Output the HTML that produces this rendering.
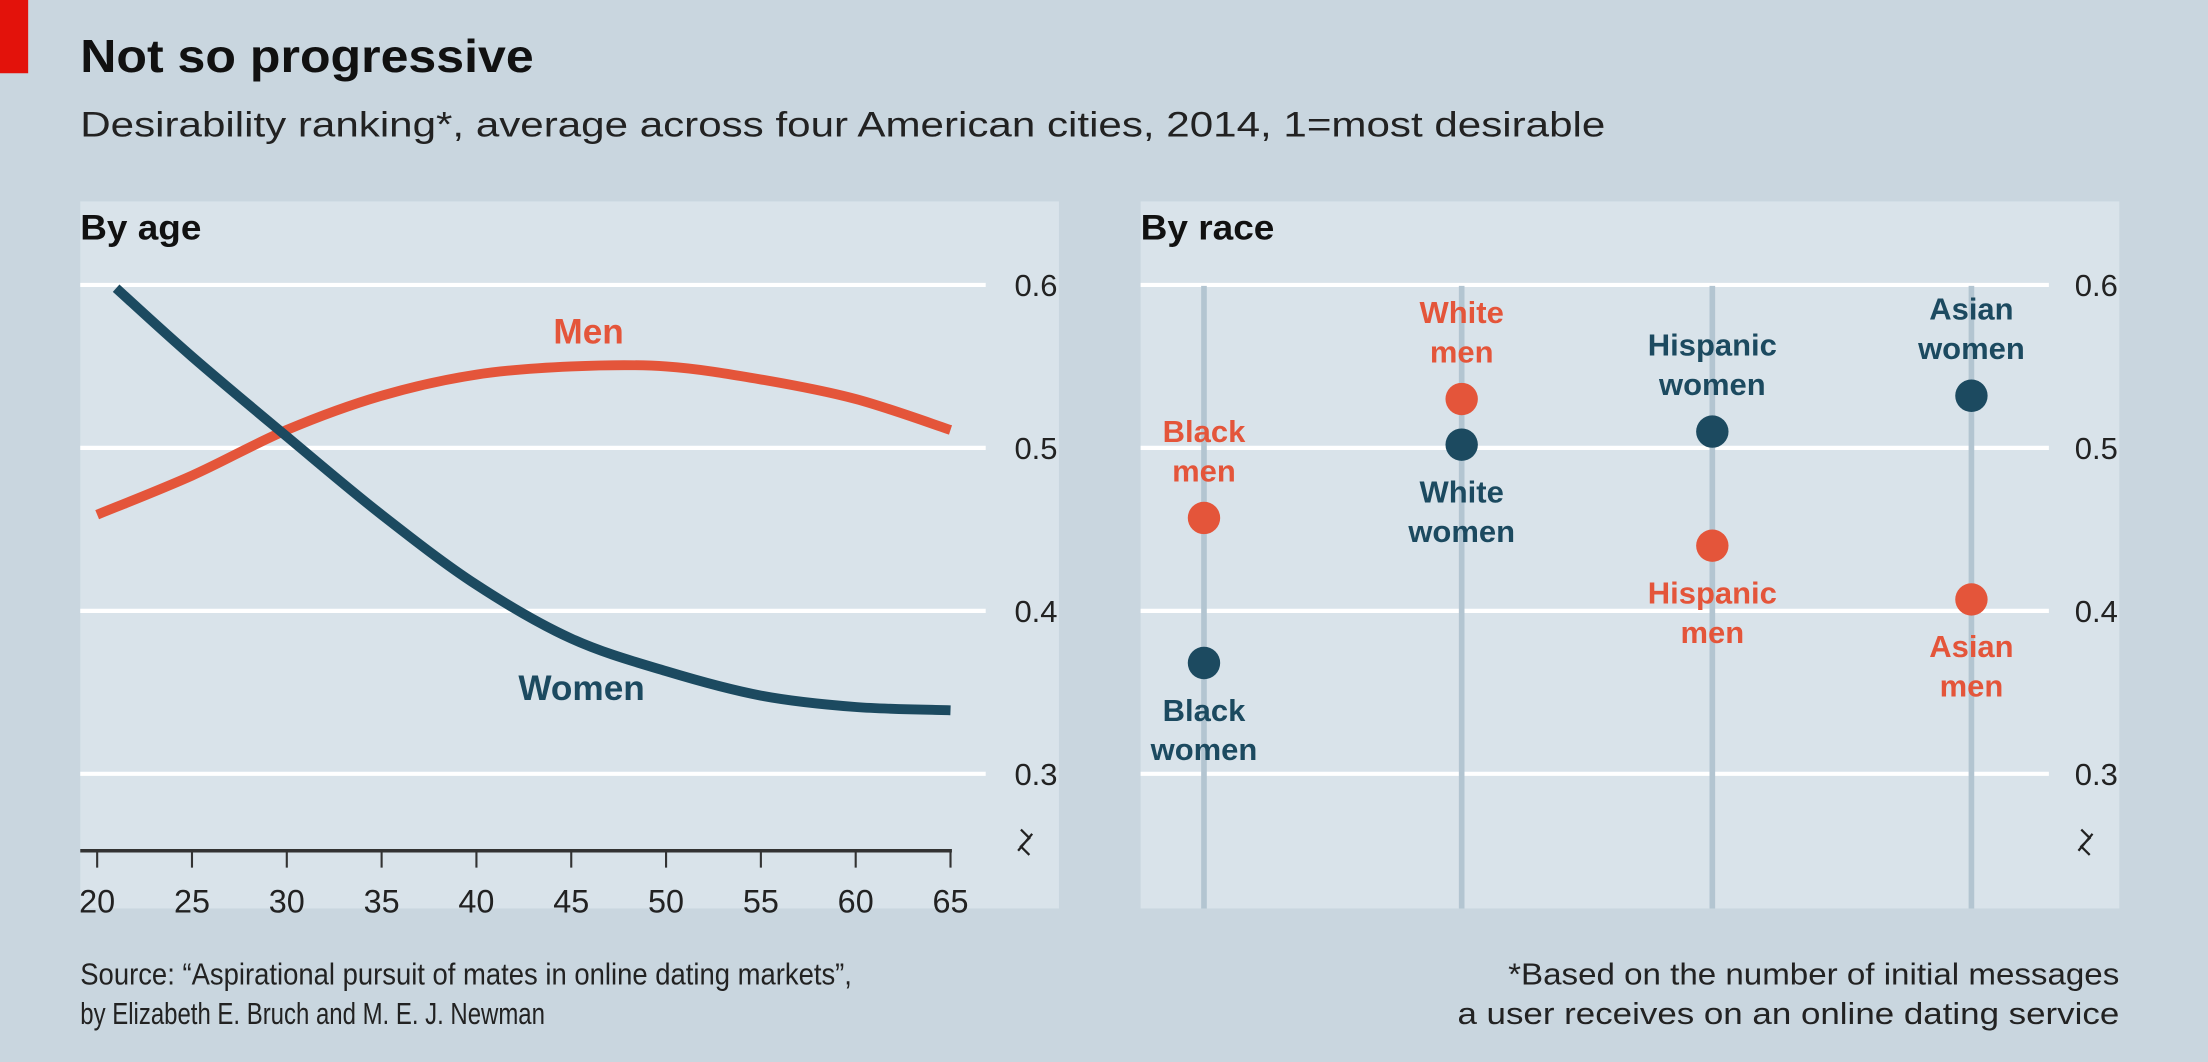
<!DOCTYPE html>
<html><head><meta charset="utf-8"><style>
html,body{margin:0;padding:0;background:#c9d6df;}
svg{display:block;}
text{font-family:"Liberation Sans",sans-serif;}
</style></head><body>
<svg id="chart" width="2208" height="1062" viewBox="0 0 1568 754" preserveAspectRatio="none">
<rect x="0" y="0" width="1568" height="754" fill="#c9d6df"/>
<rect x="0" y="0" width="20" height="52" fill="#e3120b"/>
<text x="57" y="51" font-size="33" font-weight="bold" fill="#111" textLength="322" lengthAdjust="spacingAndGlyphs">Not so progressive</text>
<text x="57" y="97" font-size="25" fill="#222" textLength="1083" lengthAdjust="spacingAndGlyphs">Desirability ranking*, average across four American cities, 2014, 1=most desirable</text>
<rect x="57" y="143" width="695" height="502" fill="#d9e3ea"/>
<rect x="810" y="143" width="695" height="502" fill="#d9e3ea"/>
<text x="57" y="170" font-size="25" font-weight="bold" fill="#111" textLength="86" lengthAdjust="spacingAndGlyphs">By age</text>
<text x="810" y="170" font-size="25" font-weight="bold" fill="#111" textLength="95" lengthAdjust="spacingAndGlyphs">By race</text>
<g id="left"></g>
<g id="right"></g>
<text x="57" y="699" font-size="22" fill="#222" textLength="548" lengthAdjust="spacingAndGlyphs">Source: “Aspirational pursuit of mates in online dating markets”,</text>
<text x="57" y="727" font-size="22" fill="#222" textLength="330" lengthAdjust="spacingAndGlyphs">by Elizabeth E. Bruch and M. E. J. Newman</text>
<text x="1505" y="699" font-size="22" fill="#222" text-anchor="end" textLength="434" lengthAdjust="spacingAndGlyphs">*Based on the number of initial messages</text>
<text x="1505" y="727" font-size="22" fill="#222" text-anchor="end" textLength="470" lengthAdjust="spacingAndGlyphs">a user receives on an online dating service</text>
</svg>
<script>
const yTicks = [0.6, 0.5, 0.4, 0.3];
const yTickLabels = ["0.6", "0.5", "0.4", "0.3"];
const ages = [20, 25, 30, 35, 40, 45, 50, 55, 60, 65];
const ageTickLabels = ["20","25","30","35","40","45","50","55","60","65"];
const womenAges = [21, 25, 30, 35, 40, 45, 50, 55, 60, 65];
const womenValues = [0.598, 0.556, 0.507, 0.459, 0.416, 0.383, 0.363, 0.348, 0.341, 0.339];
const menAges = [20, 25, 30, 35, 40, 45, 50, 55, 60, 65];
const menValues = [0.459, 0.483, 0.511, 0.532, 0.545, 0.550, 0.550, 0.542, 0.530, 0.511];
const races = ["Black", "White", "Hispanic", "Asian"];
const raceMen = [0.457, 0.530, 0.440, 0.407];
const raceWomen = [0.368, 0.502, 0.510, 0.532];
const menLabelAbove = [true, true, false, false];
const womenLabelAbove = [false, false, true, true];

const NS = "http://www.w3.org/2000/svg";
const ORANGE = "#e4553a", DARK = "#1c4a60";
function y(v){ return 318 - (v - 0.5) * 1157; }
function xAge(a){ return 69 + (a - 20) * (606 / 45); }
function xRace(i){ return [855, 1038, 1216, 1400][i]; }
function mk(tag, attrs, parent){ const e = document.createElementNS(NS, tag); for (const k in attrs) e.setAttribute(k, attrs[k]); parent.appendChild(e); return e; }
const L = document.getElementById('left'), R = document.getElementById('right');

yTicks.forEach((t, i) => {
  let g = mk('line', {x1:57, x2:700, y1:y(t), y2:y(t), stroke:'#fff', 'stroke-width':3}, L);
  
  
  let tx = mk('text', {x:751, y:y(t)+8, 'font-size':22, fill:'#222', 'text-anchor':'end'}, L);
  tx.textContent = yTickLabels[i];
  
  
  let g2 = mk('line', {x1:810, x2:1455, y1:y(t), y2:y(t), stroke:'#fff', 'stroke-width':3}, R);
  
  
  let tx2 = mk('text', {x:1504, y:y(t)+8, 'font-size':22, fill:'#222', 'text-anchor':'end'}, R);
  tx2.textContent = yTickLabels[i];
  
  
});
[[728, L], [1481, R]].forEach(([bx, p]) => {
  const by = y(0.258);
  let b = mk('path', {d:`M${bx-3},${by-9} L${bx+3},${by-3} L${bx-3},${by+3} L${bx+3},${by+9} M${bx-5},${by+6} L${bx+5},${by-6}`, stroke:'#222', 'stroke-width':1.6, fill:'none'}, p);
  
  
});
let ax = mk('line', {x1:57, x2:676, y1:604, y2:604, stroke:'#333', 'stroke-width':2.5}, L);


ages.forEach((a, i) => {
  let tk = mk('line', {x1:xAge(a), x2:xAge(a), y1:604, y2:616, stroke:'#333', 'stroke-width':1.5}, L);
  
  
  let tl = mk('text', {x:xAge(a), y:648, 'font-size':23, fill:'#222', 'text-anchor':'middle'}, L);
  tl.textContent = ageTickLabels[i];
  
  
});
function linePath(xs, vs){
  const pts = xs.map((a, i) => [xAge(a), y(vs[i])]);
  let d = `M${pts[0][0]},${pts[0][1]}`;
  for (let i = 0; i < pts.length - 1; i++) {
    const p0 = pts[i-1] || pts[i], p1 = pts[i], p2 = pts[i+1], p3 = pts[i+2] || p2;
    const c1 = [p1[0] + (p2[0]-p0[0])/6, p1[1] + (p2[1]-p0[1])/6];
    const c2 = [p2[0] - (p3[0]-p1[0])/6, p2[1] - (p3[1]-p1[1])/6];
    d += ` C${c1[0]},${c1[1]} ${c2[0]},${c2[1]} ${p2[0]},${p2[1]}`;
  }
  return d;
}
let men = mk('path', {d:linePath(menAges, menValues), stroke:ORANGE, 'stroke-width':7, fill:'none'}, L);


let women = mk('path', {d:linePath(womenAges, womenValues), stroke:DARK, 'stroke-width':7, fill:'none'}, L);


let ml = mk('text', {x:418, y:244, 'font-size':25, 'font-weight':'bold', fill:ORANGE, 'text-anchor':'middle'}, L);
ml.textContent = 'Men';


let wl = mk('text', {x:413, y:497, 'font-size':25, 'font-weight':'bold', fill:DARK, 'text-anchor':'middle'}, L);
wl.textContent = 'Women';



races.forEach((r, i) => {
  const cx = xRace(i);
  let vl = mk('line', {x1:cx, x2:cx, y1:203, y2:645, stroke:'#b3c5d1', 'stroke-width':4}, R);
  
  
});
function dotLabel(i, v, above, word, color, nm){
  const cx = xRace(i), cy = y(v);
  let c = mk('circle', {cx:cx, cy:cy, r:11.5, fill:color}, R);
  
  
  const l1 = above ? cy - 54 : cy + 41, l2 = l1 + 28;
  let t1 = mk('text', {x:cx, y:l1, 'font-size':22, 'font-weight':'bold', fill:color, 'text-anchor':'middle'}, R);
  t1.textContent = races[i];
  
  
  let t2 = mk('text', {x:cx, y:l2, 'font-size':22, 'font-weight':'bold', fill:color, 'text-anchor':'middle'}, R);
  t2.textContent = word;
  
  
}
races.forEach((r, i) => {
  dotLabel(i, raceMen[i], menLabelAbove[i], 'men', ORANGE, r.toLowerCase() + '-men');
  dotLabel(i, raceWomen[i], womenLabelAbove[i], 'women', DARK, r.toLowerCase() + '-women');
});
</script>
</body></html>
